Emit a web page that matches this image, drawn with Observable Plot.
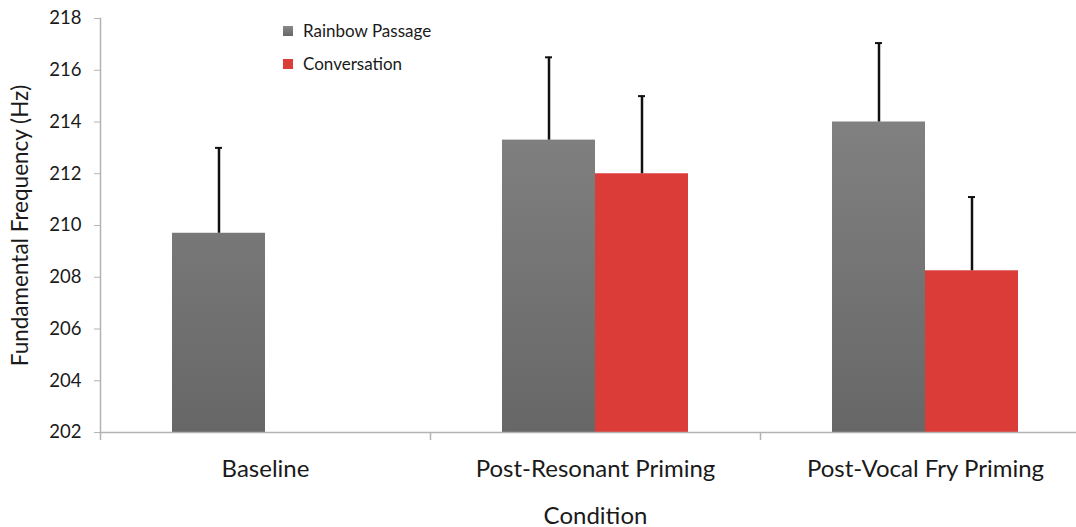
<!DOCTYPE html>
<html><head><meta charset="utf-8">
<script src="https://cdn.jsdelivr.net/npm/d3@7"></script>
<script src="https://cdn.jsdelivr.net/npm/@observablehq/plot@0.6"></script>
<style>
body{margin:0;background:#fff;font-family:Lato,sans-serif}
#wrap{position:relative;width:1076px;height:527px}
#legend{position:absolute;left:283px;top:14px;font-size:17px;color:#1a1a1a;font-family:Lato,sans-serif}
.item{display:flex;align-items:center;height:33px}
.sw{width:10px;height:10px;margin-right:10px}
</style></head><body>
<div id="wrap"><div id="chart"></div><div id="legend"></div></div>
<script>
// ---- data ----
const conditions = ["Baseline", "Post-Resonant Priming", "Post-Vocal Fry Priming"];
const series = ["Rainbow Passage", "Conversation"];
const rainbowMeans = [209.7, 213.3, 214.0];
const rainbowErrors = [3.3, 3.2, 3.05];
const conversationMeans = [null, 212.0, 208.25];
const conversationErrors = [null, 3.0, 2.85];
const yTicks = [202, 204, 206, 208, 210, 212, 214, 216, 218];
const yDomain = [202, 218];
const yLabel = "Fundamental Frequency (Hz)";
const xLabel = "Condition";

// ---- styling ----
const grayTop = "#898989", grayBottom = "#676767", red = "#dc3c38";
const axisGray = "#b3b3b3";
const fxRange = [100, 1090];
const fxStep = (fxRange[1] - fxRange[0]) / conditions.length;

const rows = [];
conditions.forEach((c, i) => {
  if (rainbowMeans[i] != null) rows.push({condition: c, series: series[0], value: rainbowMeans[i], err: rainbowErrors[i]});
  if (conversationMeans[i] != null) rows.push({condition: c, series: series[1], value: conversationMeans[i], err: conversationErrors[i]});
});

const gradientDefs = (index, scales) => {
  const defs = d3.create("svg:defs");
  const g = defs.append("linearGradient").attr("id", "grayGrad")
    .attr("gradientUnits", "userSpaceOnUse")
    .attr("x1", 0).attr("x2", 0)
    .attr("y1", scales.y(yDomain[1])).attr("y2", scales.y(yDomain[0]));
  g.append("stop").attr("offset", 0).attr("stop-color", grayTop);
  g.append("stop").attr("offset", 1).attr("stop-color", grayBottom);
  return defs.node();
};

const chart = Plot.plot({
  width: 1076,
  height: 527,
  marginLeft: 100,
  marginRight: -12,
  marginTop: 18,
  marginBottom: 95,
  style: {fontFamily: "Lato, sans-serif", color: "#1a1a1a", background: "#fff"},
  fx: {domain: conditions, range: fxRange, padding: 0},
  x: {domain: series, paddingInner: 0, paddingOuter: 0.77, axis: null},
  y: {domain: yDomain},
  color: {domain: series, range: ["url(#grayGrad)", red]},
  marks: [
    gradientDefs,
    Plot.barY(rows, {fx: "condition", x: "series", y1: yDomain[0], y2: "value", fill: "series"}),
    Plot.ruleX(rows, {fx: "condition", x: "series", y1: "value", y2: d => d.value + d.err, stroke: "#111", strokeWidth: 2.5}),
    Plot.tickY(rows, {fx: "condition", x: "series", y: d => d.value + d.err, stroke: "#111", strokeWidth: 2, inset: 43}),
    Plot.ruleY([yDomain[0]], {stroke: axisGray, strokeWidth: 1.5}),
    Plot.frame({anchor: "left", facetAnchor: "left", stroke: axisGray, strokeWidth: 1.5}),
    Plot.axisY({ticks: yTicks, tickSize: 6, tickPadding: 13, stroke: axisGray, fontSize: 18.5, label: null}),
    Plot.axisY({ticks: [], tickSize: 0, label: yLabel, labelAnchor: "center", labelArrow: false, labelOffset: 88, fontSize: 22.5, dy: -24}),
    Plot.axisFx({anchor: "bottom", tickSize: 0, tickPadding: 27, fontSize: 24, label: xLabel, labelAnchor: "center", labelArrow: false, labelOffset: 91}),
    Plot.axisFx({anchor: "bottom", tickSize: 8, tickFormat: () => "", label: null, stroke: axisGray, strokeWidth: 1.5, dx: -fxStep / 2})
  ]
});
document.getElementById("chart").appendChild(chart);

// ---- legend ----
const legend = document.getElementById("legend");
const swatches = [`linear-gradient(${grayTop}, ${grayBottom})`, red];
series.forEach((s, i) => {
  const item = document.createElement("div");
  item.className = "item";
  const sw = document.createElement("span");
  sw.className = "sw";
  sw.style.background = swatches[i];
  const t = document.createElement("span");
  t.textContent = s;
  item.append(sw, t);
  legend.appendChild(item);
});
</script>
</body></html>
